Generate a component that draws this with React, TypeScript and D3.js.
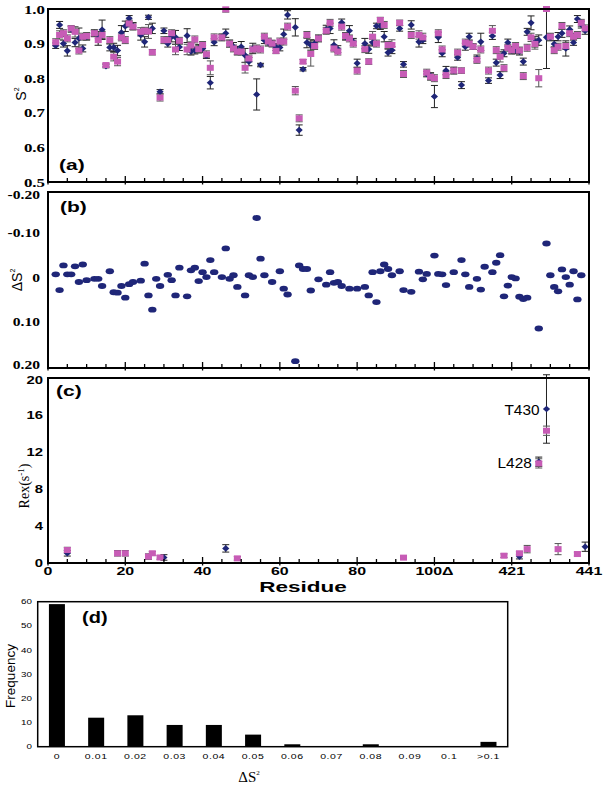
import React from 'react';
import * as d3 from 'd3';

// ---------- Panel (a): order parameters S2 ----------
const residuesA = [2,3,4,5,6,7,8,9,10,12,13,14,15,16,17,18,19,20,21,22,24,25,26,27,29,30,31,32,33,34,36,37,38,39,40,41,42,43,45,46,47,48,49,50,51,52,53,54,55,56,57,58,59,60,61,62,64,65,66,67,68,69,70,72,73,74,75,76,77,78,79,80,82,83,84,85,86,87,88,89,91,92,94,96,97,98,99,100,101,102,103,105,106,107,108,109,110,111,112,114,115,116,117,118,119,120,121,122,123,124,125,126,127,129,130,131,132,133,134,135,136,137,138,139];
const s2Blue = [.894,.954,.900,.879,.941,.903,.915,.886,.920,.930,.915,.940,.835,.889,.889,.880,.932,.950,.973,.951,.925,.905,.976,.944,.761,.937,.900,.920,.918,.890,.923,.877,.880,.885,.885,.865,.787,.904,.918,.930,.900,.891,.880,.891,.866,.848,.886,.753,.838,.910,.903,.900,.890,.889,.927,.983,.947,.650,.826,.903,.896,.900,.915,.941,.944,.896,.884,.961,.920,.937,.905,.843,.900,.884,.903,.951,.951,.920,.874,.881,.944,.840,.954,.905,.910,.812,.806,.747,.918,.872,.822,.822,.860,.780,.891,.920,.891,.857,.905,.793,.922,.845,.809,.872,.903,.880,.881,.877,.848,.934,.960,.905,.910,.918,.918,.899,.920,.930,.886,.941,.903,.971,.955,.937];
const s2BlueErr = [.008,.01,.01,.015,.008,.012,.03,.01,.01,.01,.02,.028,.005,.01,.012,.015,.02,.015,.008,.01,.015,.015,.006,.015,.006,.008,.01,.015,.02,.01,.02,.01,.01,.012,.01,.008,.018,.01,.01,.012,.01,.012,.012,.015,.02,.012,.015,.045,.005,.01,.01,.008,.01,.01,.015,.012,.025,.015,.005,.015,.015,.01,.01,.012,.015,.015,.01,.01,.01,.015,.01,.012,.015,.012,.01,.008,.01,.015,.01,.01,.008,.008,.012,.015,.01,.008,.01,.032,.015,.01,.012,.01,.008,.01,.01,.01,.008,.01,.025,.008,.01,.01,.01,.01,.01,.01,.01,.01,.01,.01,.02,.015,.015,.09,.01,.01,.012,.012,.022,.01,.008,.01,.01,.01];
const s2Pink = [.904,.925,.930,.915,.944,.934,.880,.920,.922,.930,.910,.925,.838,.910,.862,.848,.918,.910,.958,.949,.934,.937,.935,.875,.744,.910,.910,.930,.883,.908,.883,.895,.912,.884,.896,.869,.830,.918,.918,.999,.900,.886,.877,.877,.830,.857,.883,.886,.883,.920,.906,.900,.879,.906,.906,.949,.764,.684,.848,.925,.870,.893,.915,.937,.960,.886,.877,.949,.922,.915,.900,.822,.884,.848,.920,.900,.968,.954,.896,.896,.960,.812,.925,.925,.918,.816,.804,.800,.930,.883,.809,.822,.874,.822,.903,.900,.891,.853,.883,.822,.937,.881,.862,.829,.888,.881,.893,.880,.806,.888,.918,.899,.800,1.000,.920,.881,.891,.951,.893,.930,.920,.925,.960,.944];
const s2PinkErr = [.01,.012,.01,.01,.008,.015,.01,.01,.01,.008,.015,.01,.005,.01,.012,.012,.01,.01,.01,.01,.012,.01,.02,.008,.01,.01,.01,.01,.015,.01,.015,.01,.01,.01,.01,.01,.02,.01,.008,.008,.01,.01,.01,.01,.015,.01,.01,.01,.01,.01,.01,.01,.008,.01,.01,.01,.012,.01,.006,.01,.035,.01,.008,.01,.01,.01,.01,.01,.01,.01,.01,.01,.01,.008,.015,.01,.008,.01,.01,.015,.008,.01,.01,.012,.012,.01,.01,.01,.01,.01,.01,.008,.01,.008,.01,.01,.008,.01,.01,.01,.015,.01,.015,.01,.01,.01,.01,.01,.01,.01,.012,.015,.025,.005,.01,.01,.01,.01,.01,.01,.01,.01,.01,.01];

// ---------- Panel (b): delta S2 ----------
const residuesB = [2,3,4,5,6,7,8,9,10,12,13,14,16,17,18,19,20,21,22,24,25,26,27,28,29,31,32,33,34,36,37,38,39,40,41,42,43,45,46,47,48,49,51,52,53,54,55,56,58,60,61,62,64,65,66,67,68,70,72,73,74,75,76,78,80,82,83,84,85,86,87,88,89,91,92,94,96,97,98,100,101,102,103,105,107,108,109,111,112,113,115,116,117,118,119,120,121,122,123,124,127,129,130,131,132,133,134,135,136,137,138];
const deltaS2 = [-0.007,0.028,-0.027,-0.007,-0.007,-0.025,0.010,-0.029,0.006,0.003,0.003,0.019,-0.014,0.033,0.034,0.019,0.045,0.015,0.010,0.007,-0.031,0.040,0.072,0.003,0.019,-0.006,0.006,0.040,-0.022,0.042,-0.016,-0.022,0.008,-0.012,-0.001,-0.039,-0.012,-0.001,-0.065,0.003,-0.005,0.021,0.040,-0.005,-0.001,-0.133,-0.042,-0.005,0.010,-0.014,0.025,0.038,0.187,-0.027,-0.019,-0.019,0.029,0.004,0.016,-0.012,0.012,0.010,0.019,0.025,0.025,0.021,0.040,-0.012,0.055,-0.014,-0.029,-0.019,-0.005,-0.014,0.028,0.032,-0.013,0.004,-0.008,-0.049,-0.008,-0.007,0.017,-0.012,-0.039,-0.007,0.021,0.003,0.027,-0.024,-0.012,-0.033,-0.050,0.042,0.018,-0.001,0.002,0.043,0.048,0.045,0.114,-0.076,-0.005,0.021,0.031,-0.018,-0.001,0.016,-0.014,0.049,-0.005];

// ---------- Panel (c): Rex ----------
const residuesRexBlue = [5,30,46,122,127,129,139];
const rexBlue = [1.05,0.6,1.58,0.69,10.95,16.65,1.76];
const rexBlueErr = [0.3,0.3,0.4,0.25,0.5,3.7,0.5];
const residuesRexPink = [5,18,20,26,27,29,49,92,118,122,124,127,129,132,137];
const rexPink = [1.4,1.05,1.05,0.69,1.05,0.6,0.5,0.58,0.79,1.05,1.5,10.77,14.3,1.5,0.97];
const rexPinkErr = [0.3,0.3,0.3,0.3,0.2,0.2,0.2,0.1,0.2,0.2,0.4,0.5,0.5,0.6,0.2];
const rexLabels = [{ r: 129, v: 16.65, text: 'T430' }, { r: 127, v: 10.95, text: 'L428' }];

// ---------- Axis ticks ----------
const xTickValues = [0, 20, 40, 60, 80, 100, 120, 140];
const xTickLabels = ['0', '20', '40', '60', '80', '100Δ', '421', '441'];
const yTicksA = [1.0, 0.9, 0.8, 0.7, 0.6, 0.5];
const yTicksB = [-0.2, -0.1, 0, 0.1, 0.2];
const yTickLabelsB = ['-0.20', '-0.10', '0', '0.10', '0.20'];
const yTicksC = [20, 16, 12, 8, 4, 0];

// ---------- Panel (d): histogram ----------
const histCategories = ['0', '0.01', '0.02', '0.03', '0.04', '0.05', '0.06', '0.07', '0.08', '0.09', '0.1', '>0.1'];
const histFrequency = [59, 12, 13, 9, 9, 5, 1, 0, 1, 0, 0, 2];
const yTicksD = [0, 10, 20, 30, 40, 50, 60];

const BLUE = '#1f2678';
const PINK = '#c75cb6';
const SERIF = "'Liberation Serif', 'Times New Roman', serif";
const SANS = "'Liberation Sans', Arial, Helvetica, sans-serif";

const X0 = 48, X1 = 589;
const A = { top: 9, bottom: 182 };
const B = { top: 192, bottom: 368 };
const C = { top: 378, bottom: 563 };
const D = { left: 37.7, right: 507.7, top: 601.7, bottom: 746.7 };

const x = d3.scaleLinear().domain([0, 140]).range([X0, X1]);
const yA = d3.scaleLinear().domain([0.5, 1.0]).range([A.bottom, A.top]);
const yB = d3.scaleLinear().domain([-0.2, 0.2]).range([188, 367]);
const yC = d3.scaleLinear().domain([0, 20]).range([C.bottom, C.top]);
const xD = d3.scaleBand<string>().domain(histCategories).range([D.left, D.right]).paddingInner(0.592).paddingOuter(0.286);
const yD = d3.scaleLinear().domain([0, 60]).range([D.bottom, D.top]);

function ST({ x, y, sx = 1, rot = 0, children, ...rest }: any) {
  const t = `translate(${x},${y})${rot ? ` rotate(${rot})` : ''} scale(${sx},1)`;
  return <text transform={t} {...rest}>{children}</text>;
}

function ErrBar({ cx, y1, y2, color, cap = 3.5 }: any) {
  return (
    <g stroke={color} strokeWidth={1}>
      <line x1={cx} x2={cx} y1={y1} y2={y2} />
      <line x1={cx - cap} x2={cx + cap} y1={y1} y2={y1} />
      <line x1={cx - cap} x2={cx + cap} y1={y2} y2={y2} />
    </g>
  );
}

const diamond = (cx: number, cy: number) => `M${cx},${cy - 3.3}L${cx + 3.6},${cy}L${cx},${cy + 3.3}L${cx - 3.6},${cy}Z`;

function BottomTicks({ y }: { y: number }) {
  const minor = d3.range(0, 141, 5);
  return (
    <g stroke="#000" strokeWidth={1.3}>
      {minor.map((t) => {
        const major = t % 20 === 0;
        return <line key={t} x1={x(t)} x2={x(t)} y1={y - (major ? 6 : 4)} y2={y + (major ? 2.5 : 0)} />;
      })}
    </g>
  );
}

export default function App() {
  const aPts = residuesA.map((r, i) => ({ r, b: s2Blue[i], be: s2BlueErr[i], p: s2Pink[i], pe: s2PinkErr[i] }));
  const bPts = residuesB.map((r, i) => ({ r, v: deltaS2[i] }));
  const cBlue = residuesRexBlue.map((r, i) => ({ r, v: rexBlue[i], e: rexBlueErr[i] }));
  const cPink = residuesRexPink.map((r, i) => ({ r, v: rexPink[i], e: rexPinkErr[i] }));

  return (
    <svg width={604} height={787} style={{ position: 'absolute', left: 0, top: 0, background: '#fff' }}>
      <rect width={604} height={787} fill="#fff" />

      {/* ---------- Panel (a) ---------- */}
      <g>
        {aPts.map((d) => (
          <ErrBar key={'be' + d.r} cx={x(d.r)} y1={yA(Math.min(1, d.b + d.be))} y2={yA(d.b - d.be)} color="#222" />
        ))}
        {aPts.map((d) => (
          <ErrBar key={'pe' + d.r} cx={x(d.r)} y1={yA(Math.min(1, d.p + d.pe))} y2={yA(d.p - d.pe)} color="#555" />
        ))}
        {aPts.map((d) => (
          <path key={'bd' + d.r} d={diamond(x(d.r), yA(d.b))} fill={BLUE} />
        ))}
        {aPts.map((d) => (
          <rect key={'ps' + d.r} x={x(d.r) - 3.5} y={yA(d.p) - 3} width={7} height={6} fill={PINK} />
        ))}
        <rect x={X0} y={A.top} width={X1 - X0} height={A.bottom - A.top} fill="none" stroke="#000" strokeWidth={2} />
        <BottomTicks y={A.bottom} />
        {yTicksA.map((t) => (
          <ST key={t} x={45} y={yA(t) + 4.5} sx={1.35} textAnchor="end" fontFamily={SERIF} fontWeight="bold" fontSize={12.5}>
            {t.toFixed(1)}
          </ST>
        ))}
        <ST x={26} y={94} rot={-90} textAnchor="middle" fontFamily={SANS} fontSize={14}>
          S<tspan dy={-7} fontSize={7}>2</tspan>
        </ST>
        <ST x={59} y={170} sx={1.4} fontFamily={SANS} fontWeight="bold" fontSize={15}>(a)</ST>
      </g>

      {/* ---------- Panel (b) ---------- */}
      <g>
        {bPts.map((d) => (
          <ellipse key={'b' + d.r} cx={x(d.r)} cy={yB(d.v)} rx={4.2} ry={2.9} fill={BLUE} />
        ))}
        <rect x={X0} y={B.top} width={X1 - X0} height={B.bottom - B.top} fill="none" stroke="#000" strokeWidth={2} />
        <BottomTicks y={B.bottom} />
        {yTicksB.map((t, i) => (
          <ST key={t} x={40} y={Math.min(Math.max(yB(t), B.top + 3), B.bottom - 3) + 4} sx={1.3} textAnchor="end" fontFamily={SERIF} fontWeight="bold" fontSize={12}>
            {yTickLabelsB[i]}
          </ST>
        ))}
        <ST x={22} y={280} rot={-90} textAnchor="middle" fontFamily={SANS} fontSize={14}>
          ΔS<tspan dy={-7} fontSize={7}>2</tspan>
        </ST>
        <ST x={60} y={212} sx={1.4} fontFamily={SANS} fontWeight="bold" fontSize={15}>(b)</ST>
      </g>

      {/* ---------- Panel (c) ---------- */}
      <g>
        {cBlue.map((d) => (
          <ErrBar key={'cbe' + d.r} cx={x(d.r)} y1={yC(d.v + d.e)} y2={yC(Math.max(0, d.v - d.e))} color="#222" />
        ))}
        {cPink.map((d) => (
          <ErrBar key={'cpe' + d.r} cx={x(d.r)} y1={yC(d.v + d.e)} y2={yC(Math.max(0, d.v - d.e))} color="#555" />
        ))}
        {cBlue.map((d) => (
          <path key={'cb' + d.r} d={diamond(x(d.r), yC(d.v))} fill={BLUE} />
        ))}
        {cPink.map((d) => (
          <rect key={'cp' + d.r} x={x(d.r) - 3.5} y={yC(d.v) - 3} width={7} height={6} fill={PINK} />
        ))}
        {rexLabels.map((l) => (
          <ST key={l.text} x={x(l.r) - 7} y={yC(l.v) + 6} sx={1.1} textAnchor="end" fontFamily={SANS} fontSize={14}>
            {l.text}
          </ST>
        ))}
        <rect x={X0} y={C.top} width={X1 - X0} height={C.bottom - C.top} fill="none" stroke="#000" strokeWidth={2} />
        <BottomTicks y={C.bottom} />
        {yTicksC.map((t) => (
          <ST key={t} x={43} y={Math.max(yC(t), C.top + 2) + 4} sx={1.35} textAnchor="end" fontFamily={SANS} fontWeight="bold" fontSize={11}>
            {t}
          </ST>
        ))}
        {xTickValues.map((t, i) => (
          <ST key={t} x={x(t)} y={575} sx={1.45} textAnchor="middle" fontFamily={SANS} fontWeight="bold" fontSize={11}>
            {xTickLabels[i]}
          </ST>
        ))}
        <ST x={303} y={592} sx={1.5} textAnchor="middle" fontFamily={SANS} fontWeight="bold" fontSize={15}>Residue</ST>
        <ST x={29} y={486} rot={-90} textAnchor="middle" fontFamily={SERIF} fontSize={14}>
          Rex(s<tspan dy={-5} fontSize={9}>-1</tspan><tspan dy={5}>)</tspan>
        </ST>
        <ST x={56} y={396} sx={1.4} fontFamily={SANS} fontWeight="bold" fontSize={15}>(c)</ST>
      </g>

      {/* ---------- Panel (d) ---------- */}
      <g>
        {histCategories.map((c, i) => (
          <rect key={c} x={xD(c)} y={yD(histFrequency[i])} width={xD.bandwidth()} height={D.bottom - yD(histFrequency[i])} fill="#000" />
        ))}
        <rect x={D.left} y={D.top} width={D.right - D.left} height={D.bottom - D.top} fill="none" stroke="#000" strokeWidth={1.5} />
        {yTicksD.map((t) => (
          <ST key={t} x={32} y={yD(t) + 2.5} sx={1.4} textAnchor="end" fontFamily={SANS} fontSize={7}>
            {t}
          </ST>
        ))}
        {histCategories.map((c) => (
          <ST key={c} x={(xD(c) as number) + xD.bandwidth() / 2} y={758.5} sx={1.5} textAnchor="middle" fontFamily={SANS} fontSize={7} letterSpacing={0.4}>
            {c}
          </ST>
        ))}
        <ST x={15} y={676} rot={-90} textAnchor="middle" fontFamily={SANS} fontSize={13.5}>Frequency</ST>
        <ST x={249} y={782} textAnchor="middle" fontFamily={SERIF} fontSize={15}>
          ΔS<tspan dy={-7} fontSize={7}>2</tspan>
        </ST>
        <ST x={82} y={623} sx={1.25} fontFamily={SANS} fontWeight="bold" fontSize={16}>(d)</ST>
      </g>
    </svg>
  );
}
